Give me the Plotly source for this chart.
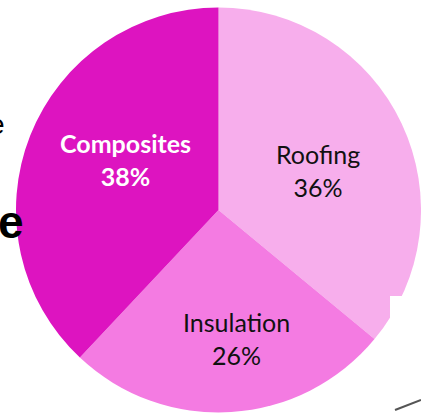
import math
import plotly.graph_objects as go

categories = ["Roofing", "Insulation", "Composites"]
shares = [36, 26, 38]
colors = ["#F7AEEC", "#F47BE2", "#DD14C0"]
text_colors = ["#111111", "#111111", "#FFFFFF"]
bold = [False, False, True]

W, H = 421, 413
dom_x = [16 / W, 1]
dom_y = [0, 1 - 7 / H]

fig = go.Figure(go.Pie(
    labels=categories,
    values=shares,
    textinfo="none",
    sort=False,
    direction="clockwise",
    rotation=0,
    marker=dict(colors=colors, line=dict(width=0)),
    domain=dict(x=dom_x, y=dom_y),
    hoverinfo="skip",
    showlegend=False,
))

# label placement derived from the slice mid-angles
cx = (dom_x[0] + dom_x[1]) / 2 * W
cy = (1 - (dom_y[0] + dom_y[1]) / 2) * H
R = min((dom_x[1] - dom_x[0]) * W, (dom_y[1] - dom_y[0]) * H) / 2
radial_frac = [0.53, 0.64, 0.52]
angle_tweak = [3.8, -4.6, 6.8]
total = sum(shares)
cum = 0
for cat, v, col, b, rf, tw in zip(categories, shares, text_colors, bold, radial_frac, angle_tweak):
    mid = (cum + v / 2) / total * 360 + tw
    cum += v
    r = rf * R
    px = cx + r * math.sin(math.radians(mid))
    py = cy - r * math.cos(math.radians(mid))
    t = f"{cat}<br>{v}%"
    if b:
        t = f"<b>{t}</b>"
    fig.add_annotation(x=px / W, y=1 - py / H, xref="paper", yref="paper", text=t,
                       showarrow=False, xanchor="center", yanchor="middle", align="center",
                       font=dict(family="Lato", size=25, color=col))

# background fragments visible in the reference
fig.add_annotation(x=0, y=1 - 222 / H, xref="paper", yref="paper", text="<b>e</b>",
                   showarrow=False, xanchor="right", yanchor="middle",
                   font=dict(family="Liberation Sans", size=46, color="#000000"), xshift=26)
fig.add_annotation(x=0, y=1 - 124 / H, xref="paper", yref="paper", text="e",
                   showarrow=False, xanchor="right", yanchor="middle",
                   font=dict(family="Liberation Sans", size=28, color="#000000"), xshift=7)
fig.add_shape(type="rect", xref="paper", yref="paper", x0=390 / W, x1=1.01, y0=-0.01, y1=1 - 296 / H,
              fillcolor="white", line=dict(width=0), layer="above")
fig.add_shape(type="line", xref="paper", yref="paper", x0=395 / W, y0=1 - 410 / H, x1=1, y1=1 - 400 / H,
              line=dict(color="#555555", width=2), layer="above")

fig.update_layout(
    width=W, height=H,
    margin=dict(l=0, r=0, t=0, b=0),
    paper_bgcolor="white",
    plot_bgcolor="white",
)
fig.write_html("out.html")
